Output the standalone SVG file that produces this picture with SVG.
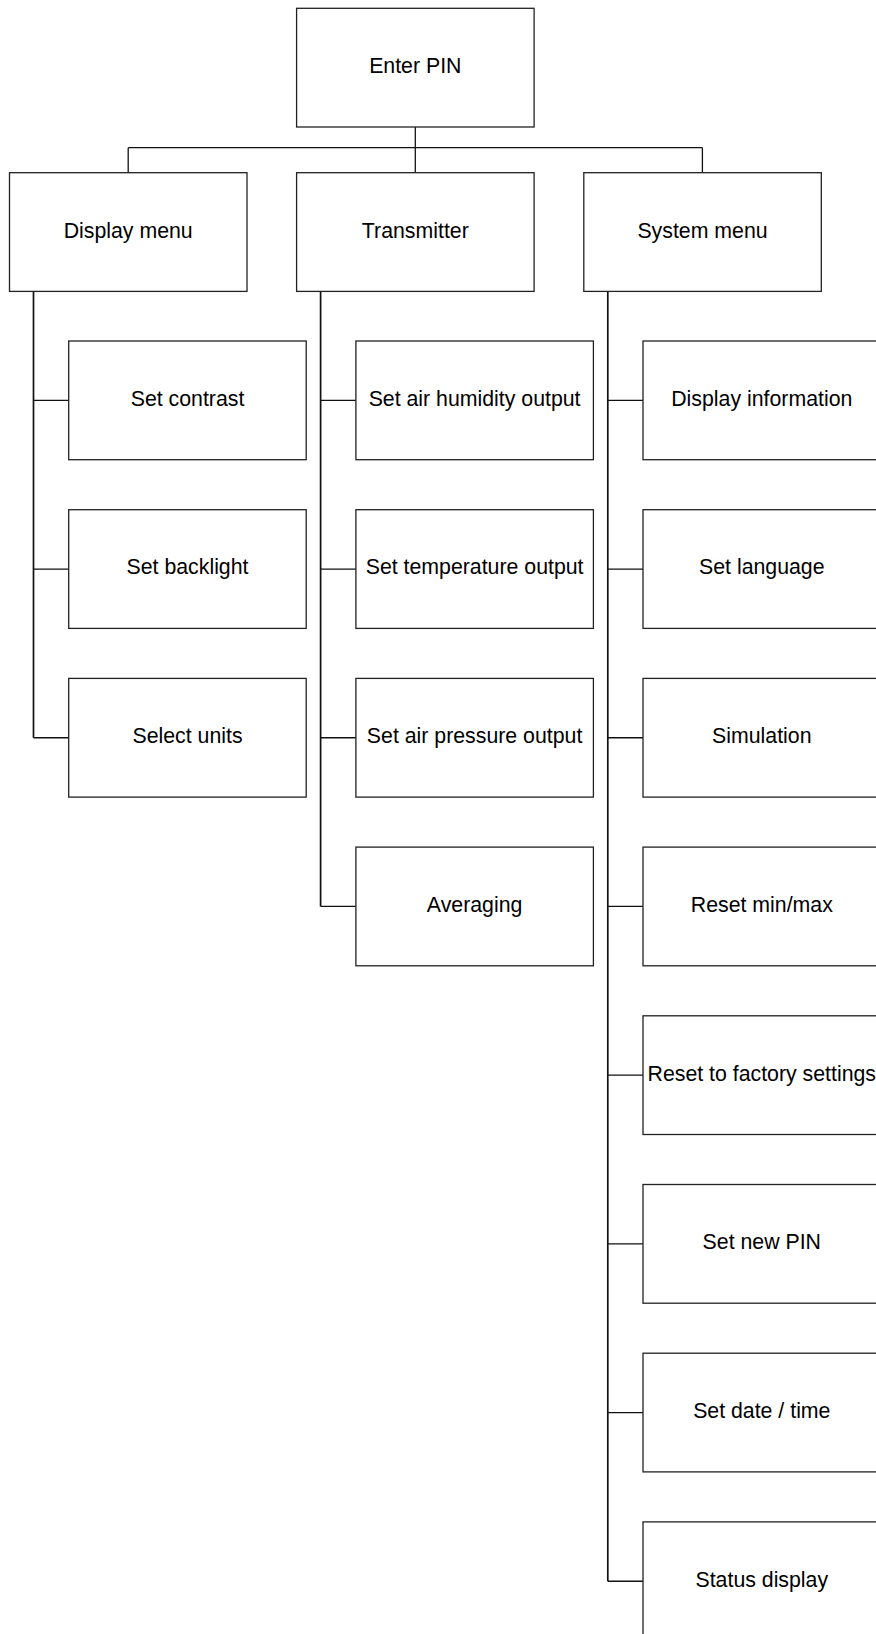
<svg xmlns="http://www.w3.org/2000/svg" width="876" height="1634" viewBox="0 0 876 1634">
<style>
.box{fill:#fff;stroke:#222;stroke-width:1.3}
.lbl{font-family:"Liberation Sans",Arial,sans-serif;font-size:21.3px;fill:#000;text-anchor:middle}
.con{fill:none;stroke:#111;stroke-width:1.3}
.spine{fill:none;stroke:#111;stroke-width:1.7}
</style>
<rect width="876" height="1634" fill="#fff"/>
<g id="connectors">
<path class="con" d="M415.3,127 V172.7 M128.2,147.7 H702.4 M128.2,147.7 V172.7 M702.4,147.7 V172.7"/>
<path class="spine" d="M33.5,291.4 V737.75"/>
<path class="con" d="M33.5,400.35 H68.7 M33.5,569.05 H68.7 M33.5,737.75 H68.7"/>
<path class="spine" d="M320.6,291.4 V906.45"/>
<path class="con" d="M320.6,400.35 H355.9 M320.6,569.05 H355.9 M320.6,737.75 H355.9 M320.6,906.45 H355.9"/>
<path class="spine" d="M607.8,291.4 V1581.25"/>
<path class="con" d="M607.8,400.35 H643 M607.8,569.05 H643 M607.8,737.75 H643 M607.8,906.45 H643 M607.8,1075.15 H643 M607.8,1243.85 H643 M607.8,1412.55 H643 M607.8,1581.25 H643"/>
</g>
<g id="enter-pin"><rect class="box" x="296.6" y="8.3" width="237.5" height="118.7"/><text class="lbl" x="415.3" y="73">Enter PIN</text></g>
<g id="display-menu"><rect class="box" x="9.5" y="172.7" width="237.5" height="118.7"/><text class="lbl" x="128.2" y="237.5">Display menu</text></g>
<g id="transmitter"><rect class="box" x="296.6" y="172.7" width="237.5" height="118.7"/><text class="lbl" x="415.3" y="237.5">Transmitter</text></g>
<g id="system-menu"><rect class="box" x="583.8" y="172.7" width="237.5" height="118.7"/><text class="lbl" x="702.5" y="237.5">System menu</text></g>

<g id="set-contrast"><rect class="box" x="68.7" y="341" width="237.5" height="118.7"/><text class="lbl" x="187.5" y="405.7">Set contrast</text></g>
<g id="set-backlight"><rect class="box" x="68.7" y="509.7" width="237.5" height="118.7"/><text class="lbl" x="187.5" y="574.4">Set backlight</text></g>
<g id="select-units"><rect class="box" x="68.7" y="678.4" width="237.5" height="118.7"/><text class="lbl" x="187.5" y="743.1">Select units</text></g>

<g id="set-air-humidity-output"><rect class="box" x="355.9" y="341" width="237.5" height="118.7"/><text class="lbl" x="474.6" y="405.7">Set air humidity output</text></g>
<g id="set-temperature-output"><rect class="box" x="355.9" y="509.7" width="237.5" height="118.7"/><text class="lbl" x="474.6" y="574.4">Set temperature output</text></g>
<g id="set-air-pressure-output"><rect class="box" x="355.9" y="678.4" width="237.5" height="118.7"/><text class="lbl" x="474.6" y="743.1">Set air pressure output</text></g>
<g id="averaging"><rect class="box" x="355.9" y="847.1" width="237.5" height="118.7"/><text class="lbl" x="474.6" y="911.8">Averaging</text></g>

<g id="display-information"><rect class="box" x="643" y="341" width="237.5" height="118.7"/><text class="lbl" x="761.8" y="405.7">Display information</text></g>
<g id="set-language"><rect class="box" x="643" y="509.7" width="237.5" height="118.7"/><text class="lbl" x="761.8" y="574.4">Set language</text></g>
<g id="simulation"><rect class="box" x="643" y="678.4" width="237.5" height="118.7"/><text class="lbl" x="761.8" y="743.1">Simulation</text></g>
<g id="reset-min-max"><rect class="box" x="643" y="847.1" width="237.5" height="118.7"/><text class="lbl" x="761.8" y="911.8">Reset min/max</text></g>
<g id="reset-factory"><rect class="box" x="643" y="1015.8" width="237.5" height="118.7"/><text class="lbl" x="761.8" y="1080.5">Reset to factory settings</text></g>
<g id="set-new-pin"><rect class="box" x="643" y="1184.5" width="237.5" height="118.7"/><text class="lbl" x="761.8" y="1249.2">Set new PIN</text></g>
<g id="set-date-time"><rect class="box" x="643" y="1353.2" width="237.5" height="118.7"/><text class="lbl" x="761.8" y="1417.9">Set date / time</text></g>
<g id="status-display"><rect class="box" x="643" y="1521.9" width="237.5" height="118.7"/><text class="lbl" x="761.8" y="1586.6">Status display</text></g>
</svg>
